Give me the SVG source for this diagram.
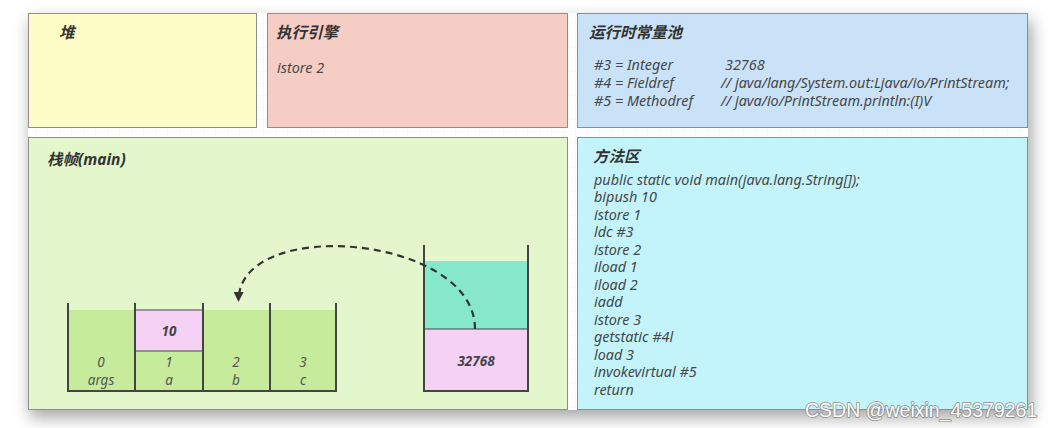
<svg xmlns="http://www.w3.org/2000/svg" width="1052" height="428" viewBox="0 0 1052 428">
<style>
.box{stroke:#8f8f86;stroke-width:1}
.title{font-family:"Noto Sans","Noto Sans CJK SC",sans-serif;font-size:15.5px;font-weight:bold;font-style:italic;fill:#333}
.txt{font-family:"Noto Sans","Noto Sans CJK SC",sans-serif;font-size:14.4px;font-style:italic;fill:#474747}
.cell{font-family:"Noto Sans",sans-serif;font-size:13.5px;font-style:italic;fill:#555;text-anchor:middle}
.cellb{font-family:"Noto Sans",sans-serif;font-size:13.5px;font-style:italic;font-weight:bold;fill:#444;text-anchor:middle}
.wall{stroke:#444;stroke-width:2;fill:none}
.wm{font-family:"Liberation Sans",Arial,sans-serif;font-size:19.5px;fill:#ffffff;stroke:#8c8c8c;stroke-width:1.6;paint-order:stroke;stroke-linejoin:round}
</style>
<defs>
<pattern id="grid" width="12" height="12" patternUnits="userSpaceOnUse">
<path d="M12 0V12M0 12H12" stroke="#f1f1f1" stroke-width="1" fill="none"/>
</pattern>
<filter id="shadow" x="-10%" y="-20%" width="120%" height="150%">
<feGaussianBlur stdDeviation="8"/>
</filter>
<marker id="arrow" markerWidth="10" markerHeight="10" refX="8" refY="5" orient="auto" markerUnits="userSpaceOnUse">
<path d="M0,0 L10,5 L0,10 Z" fill="#333"/>
</marker>
</defs>
<rect x="0" y="0" width="1052" height="428" fill="#ffffff"/>
<rect x="30" y="20" width="1002" height="398" fill="#a8a8a8" filter="url(#shadow)"/>
<rect x="28" y="13" width="1000" height="397" fill="#ffffff"/>
<rect x="28" y="13" width="1000" height="397" fill="url(#grid)"/>

<g id="heap">
<rect class="box" x="28.5" y="13.5" width="228" height="114" fill="#fefdc7" stroke="#a5a585"/>
<text class="title" x="59" y="38">堆</text>
</g>
<g id="engine">
<rect class="box" x="267.5" y="13.5" width="300" height="114" fill="#f6cdc4" stroke="#a89894"/>
<text class="title" x="276" y="38">执行引擎</text>
<text class="txt" x="277" y="73">istore 2</text>
</g>
<g id="constant-pool">
<rect class="box" x="577.5" y="13.5" width="450" height="114" fill="#c9e2f8" stroke="#8f98a0"/>
<text class="title" x="589" y="38">运行时常量池</text>
<text class="txt" x="594" y="70">#3 = Integer</text>
<text class="txt" x="725" y="70">32768</text>
<text class="txt" x="594" y="88">#4 = Fieldref</text>
<text class="txt" x="721" y="88">// java/lang/System.out:Ljava/io/PrintStream;</text>
<text class="txt" x="594" y="106">#5 = Methodref</text>
<text class="txt" x="721" y="106">// java/io/PrintStream.println:(I)V</text>
</g>
<g id="stack-frame">
<rect class="box" x="28.5" y="137.5" width="539" height="272" fill="#e4f7cc" stroke="#959d8c"/>
<text class="title" x="47" y="165">栈帧(main)</text>
</g>
<g id="local-variables">
<rect x="68" y="310" width="268" height="81" fill="#c5eb9b"/>
<rect x="135" y="310" width="68" height="41" fill="#f5d1f6" stroke="#444" stroke-width="1"/>
<path class="wall" d="M68 303V391H336V303M135 303V391M203 303V391M270 303V391"/>
<text class="cellb" x="169" y="336">10</text>
<text class="cell" x="101" y="367">0</text>
<text class="cell" x="101" y="385">args</text>
<text class="cell" x="169" y="367">1</text>
<text class="cell" x="169" y="385">a</text>
<text class="cell" x="236" y="367">2</text>
<text class="cell" x="236" y="385">b</text>
<text class="cell" x="303" y="367">3</text>
<text class="cell" x="303" y="385">c</text>
</g>
<g id="operand-stack">
<rect x="424" y="261" width="104" height="68" fill="#86e8ca"/>
<rect x="424" y="329" width="104" height="62" fill="#f5d1f6"/>
<path class="wall" d="M424 245V391H528V245"/>
<path d="M424 329H528" stroke="#444" stroke-width="1.2"/>
<text class="cellb" x="476" y="366">32768</text>
</g>
<g id="method-area">
<rect class="box" x="577.5" y="137.5" width="450" height="272" fill="#c3f4fc" stroke="#8a9a9c"/>
<text class="title" x="593" y="162">方法区</text>
<text class="txt" x="594" y="185">public static void main(java.lang.String[]);</text>
<text class="txt" x="594" y="202">bipush 10</text>
<text class="txt" x="594" y="220">istore 1</text>
<text class="txt" x="594" y="237">ldc #3</text>
<text class="txt" x="594" y="255">istore 2</text>
<text class="txt" x="594" y="272">iload 1</text>
<text class="txt" x="594" y="290">iload 2</text>
<text class="txt" x="594" y="307">iadd</text>
<text class="txt" x="594" y="325">istore 3</text>
<text class="txt" x="594" y="342">getstatic #4l</text>
<text class="txt" x="594" y="360">load 3</text>
<text class="txt" x="594" y="377">invokevirtual #5</text>
<text class="txt" x="594" y="395">return</text>
</g>
<g id="connectors">
<path d="M475 329 C475 235 240 215 238.5 300" fill="none" stroke="#333" stroke-width="2.2" stroke-dasharray="7,5" marker-end="url(#arrow)"/>
</g>
<text class="wm" x="805" y="417">CSDN @weixin_45379261</text>
</svg>
